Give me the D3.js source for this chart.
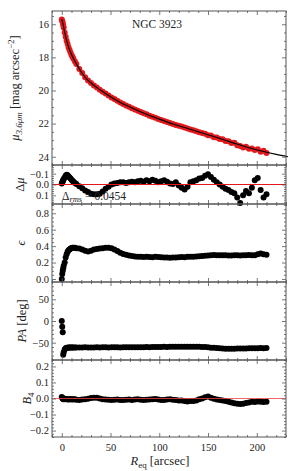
<!DOCTYPE html>
<html>
<head>
<meta charset="utf-8">
<script src="https://cdn.jsdelivr.net/npm/d3@7"></script>
<style>
body { margin: 0; background: #fff; }
text { font-family: "Liberation Serif", "DejaVu Serif", serif; fill: #222; }
</style>
</head>
<body>
<div id="chart"></div>
<script>
// Equivalent radius of each isophote [arcsec]
let radius = [
  0, 0.5, 1, 1.5, 2, 3, 4, 5, 6, 7,
  8, 9, 10, 11, 12, 13.5, 15, 18, 21, 24,
  27, 30, 33, 36, 39, 42, 45, 48, 51, 54,
  57, 60, 63, 66, 69, 72, 75, 78, 81, 84,
  87, 90, 93, 96, 99, 102, 105, 108, 111, 114,
  117, 120, 123, 126, 129, 132, 135, 138, 141, 144,
  147, 150, 153, 156, 159, 162, 165, 168, 171, 174,
  177, 180, 183, 186, 189, 192, 195, 198, 201, 204,
  207, 210]

// Surface brightness mu_3.6 [mag arcsec^-2]
let mu = [
  15.72, 15.8, 15.9, 16.05, 16.2, 16.5, 16.75, 17.0, 17.2, 17.4,
  17.55, 17.7, 17.85, 17.97, 18.08, 18.25, 18.4, 18.7, 18.95, 19.2,
  19.4, 19.55, 19.7, 19.82, 19.95, 20.07, 20.18, 20.3, 20.42, 20.52,
  20.62, 20.72, 20.82, 20.9, 20.98, 21.07, 21.15, 21.22, 21.3, 21.37,
  21.44, 21.52, 21.58, 21.65, 21.72, 21.78, 21.84, 21.9, 21.96, 22.02,
  22.08, 22.13, 22.18, 22.24, 22.3, 22.35, 22.4, 22.46, 22.52, 22.57,
  22.62, 22.7, 22.72, 22.82, 22.84, 22.93, 22.94, 23.05, 23.06, 23.17,
  23.16, 23.3, 23.36, 23.45, 23.4, 23.52, 23.5, 23.6, 23.55, 23.7,
  23.64, 23.78]

// Model profile (black line)
let fitRadius = [0, 1, 2, 3, 5, 7, 10, 13, 16, 20, 25, 30, 40, 50, 60, 70, 80, 90, 100, 115, 130, 145, 160, 175, 190, 205, 220, 232]
let fitMu = [15.7, 15.9, 16.18, 16.48, 16.98, 17.38, 17.83, 18.18, 18.5, 18.88, 19.27, 19.55, 19.99, 20.38, 20.72, 21.0, 21.27, 21.51, 21.73, 22.04, 22.31, 22.58, 22.86, 23.15, 23.43, 23.66, 23.86, 24.0]

// Residuals
let dmu = [
  -0.01, -0.02, -0.03, -0.04, -0.05, -0.065, -0.08, -0.09, -0.085, -0.075,
  -0.065, -0.055, -0.045, -0.035, -0.025, -0.015, -0.005, 0.015, 0.035, 0.055,
  0.07, 0.085, 0.09, 0.09, 0.085, 0.065, 0.04, 0.02, 0.0, -0.01,
  -0.015, -0.02, -0.02, -0.015, -0.02, -0.025, -0.02, -0.03, -0.035, -0.025,
  -0.04, -0.03, -0.045, -0.035, -0.02, -0.03, -0.04, -0.025, -0.01, -0.005,
  -0.02, 0.01, 0.03, 0.045, 0.02, -0.02, -0.03, -0.04, -0.055, -0.06,
  -0.08, -0.095, -0.07, -0.045, -0.02, 0.0, 0.02, 0.04, 0.05, 0.07,
  0.08, 0.12, 0.17, 0.1, 0.06, 0.08, 0.03, -0.04, -0.06, 0.05,
  0.12, 0.09]

// Ellipticity
let ell = [
  0.0, 0.06, 0.1, 0.13, 0.16, 0.2, 0.26, 0.3, 0.33, 0.35,
  0.36, 0.37, 0.375, 0.38, 0.38, 0.38, 0.375, 0.37, 0.36, 0.345,
  0.335, 0.345, 0.36, 0.365, 0.37, 0.375, 0.38, 0.38, 0.375, 0.36,
  0.34, 0.32, 0.305, 0.295, 0.285, 0.28, 0.275, 0.27, 0.27, 0.268,
  0.27, 0.268, 0.265, 0.27, 0.268, 0.265, 0.26, 0.262, 0.258, 0.26,
  0.262, 0.265, 0.268, 0.265, 0.27, 0.272, 0.27, 0.275, 0.278, 0.28,
  0.282, 0.285, 0.29, 0.292, 0.29, 0.288, 0.29, 0.29, 0.285, 0.285,
  0.288, 0.29, 0.285, 0.288, 0.29, 0.292, 0.29, 0.29, 0.3, 0.31,
  0.3, 0.295]

// Position angle [deg]
let pa = [
  0, -13, -26, -78, -72, -66, -63, -62, -61.5, -61,
  -61, -61, -61, -61, -61, -61, -61, -61.2, -61, -60.8,
  -61, -61.2, -61, -60.8, -61, -60.5, -60.8, -61, -60.7, -60.5,
  -60.8, -61, -60.6, -60.5, -60.8, -60.4, -60.5, -60.7, -60.3, -60.5,
  -60.2, -60.4, -60, -60.2, -59.8, -60, -59.6, -59.8, -59.5, -59.7,
  -59.4, -59.6, -59.3, -59.5, -59.4, -59.2, -59.5, -59.3, -59.6, -59.8,
  -60.2, -60.8, -61.5, -62, -62.5, -63, -63.5, -64, -64.2, -64,
  -63.8, -63.5, -63.7, -63.2, -63.5, -63, -62.8, -63, -62.6, -62.5,
  -62.8, -62.5]

// Fourth cosine harmonic B4
let b4 = [
  0.01, 0.005, 0.0, -0.005, 0.0, -0.005, -0.003, -0.005, -0.004, -0.006,
  -0.005, -0.004, -0.005, -0.006, -0.005, -0.004, -0.008, -0.01, -0.006, -0.004,
  -0.002, 0.003, 0.005, 0.004, 0.0, -0.004, -0.006, -0.008, -0.01, -0.008,
  -0.006, -0.009, -0.01, -0.008, -0.007, -0.009, -0.006, -0.005, -0.008, -0.01,
  -0.008, -0.006, -0.004, -0.003, -0.006, -0.009, -0.01, -0.007, -0.005, -0.008,
  -0.01, -0.012, -0.012, -0.015, -0.018, -0.016, -0.015, -0.012, -0.005, 0.0,
  0.008, 0.012, 0.005, -0.002, -0.006, -0.01, -0.012, -0.015, -0.02, -0.025,
  -0.03, -0.033, -0.035, -0.033, -0.028, -0.025, -0.02, -0.022, -0.018, -0.02,
  -0.022, -0.02]

let xTicks = [0, 50, 100, 150, 200]

// Set bounds
let svgWidth = 293, svgHeight = 471
let left = 52, right = 286
let frameColor = '#555'

let x = d3.scaleLinear().domain([-10, 230]).range([left, right])
let xMinor = d3.range(-10, 231, 10).filter(v => v % 50 !== 0)

let svg = d3.select('#chart')
    .append('svg')
    .attr('width', svgWidth)
    .attr('height', svgHeight)

// panels from top to bottom
let panels = [
    { top: 11, bottom: 165, domain: [15.2, 24.5], flip: true, major: [16, 18, 20, 22, 24], minor: 0.5, fmt: d3.format('d'),
      values: mu, color: '#e3191c', zero: false, label: 'mu', labelX: 19 },
    { top: 165, bottom: 204, domain: [-0.18, 0.18], flip: true, major: [-0.1, 0, 0.1], minor: 0.02, fmt: d3.format('.1f'),
      values: dmu, color: '#000', zero: true, label: 'dmu', labelX: 24 },
    { top: 204, bottom: 282, domain: [-0.037, 0.913], flip: false, major: [0, 0.2, 0.4, 0.6, 0.8], minor: 0.05, fmt: d3.format('.1f'),
      values: ell, color: '#000', zero: false, label: 'eps', labelX: 25 },
    { top: 282, bottom: 360, domain: [-90, 90], flip: false, major: [-50, 0, 50], minor: 10, fmt: d3.format('d'),
      values: pa, color: '#000', zero: false, label: 'pa', labelX: 26 },
    { top: 360, bottom: 437, domain: [-0.24, 0.24], flip: false, major: [-0.2, -0.1, 0, 0.1, 0.2], minor: 0.02, fmt: d3.format('.1f'),
      values: b4, color: '#000', zero: true, label: 'b4', labelX: 31 }
]

let styleAxis = (sel) => {
    sel.select('.domain').remove()
    sel.selectAll('line').attr('stroke', frameColor).attr('stroke-width', 0.8)
    sel.selectAll('text').attr('font-size', 10.5).attr('fill', '#222')
}

panels.forEach((p, i) => {
    let y = d3.scaleLinear()
        .domain(p.domain)
        .range(p.flip ? [p.top, p.bottom] : [p.bottom, p.top])
    let lo = Math.min(...p.domain), hi = Math.max(...p.domain)
    let yMinor = d3.range(Math.ceil(lo / p.minor) * p.minor, hi, p.minor)
        .filter(v => !p.major.some(m => Math.abs(m - v) < 1e-9))

    let g = svg.append('g')

    // data points
    g.append('g')
        .selectAll('circle')
        .data(radius)
        .join('circle')
        .attr('cx', d => x(d))
        .attr('cy', (d, k) => y(p.values[k]))
        .attr('r', 3)
        .attr('fill', p.color)

    // model line on the profile
    if (i === 0) {
        let line = d3.line()
            .x(d => x(d))
            .y((d, k) => y(fitMu[k]))
            .curve(d3.curveMonotoneX)
        g.append('path')
            .datum(fitRadius)
            .attr('fill', 'none')
            .attr('stroke', '#000')
            .attr('stroke-width', 1.1)
            .attr('d', line)
    }

    // red zero line
    if (p.zero) {
        g.append('line')
            .attr('x1', left).attr('x2', right)
            .attr('y1', y(0)).attr('y2', y(0))
            .attr('stroke', i === 1 ? '#e8141c' : '#f04040')
            .attr('stroke-width', 1)
            .attr('opacity', i === 1 ? 1 : 0.8)
    }

    // x ticks, bottom and top
    let last = i === panels.length - 1
    g.append('g')
        .attr('transform', 'translate(0,' + p.bottom + ')')
        .call(d3.axisBottom(x).tickValues(xTicks).tickSize(-4).tickPadding(7)
            .tickFormat(last ? d3.format('d') : ''))
        .call(styleAxis)
    g.append('g')
        .attr('transform', 'translate(0,' + p.bottom + ')')
        .call(d3.axisBottom(x).tickValues(xMinor).tickSize(-2).tickFormat(''))
        .call(styleAxis)
    g.append('g')
        .attr('transform', 'translate(0,' + p.top + ')')
        .call(d3.axisTop(x).tickValues(xTicks).tickSize(-4).tickFormat(''))
        .call(styleAxis)
    g.append('g')
        .attr('transform', 'translate(0,' + p.top + ')')
        .call(d3.axisTop(x).tickValues(xMinor).tickSize(-2).tickFormat(''))
        .call(styleAxis)

    // y ticks, left and right
    g.append('g')
        .attr('transform', 'translate(' + left + ',0)')
        .call(d3.axisLeft(y).tickValues(p.major).tickSize(-4).tickPadding(3).tickFormat(p.fmt))
        .call(styleAxis)
    g.append('g')
        .attr('transform', 'translate(' + left + ',0)')
        .call(d3.axisLeft(y).tickValues(yMinor).tickSize(-2).tickFormat(''))
        .call(styleAxis)
    g.append('g')
        .attr('transform', 'translate(' + right + ',0)')
        .call(d3.axisRight(y).tickValues(p.major).tickSize(-4).tickFormat(''))
        .call(styleAxis)
    g.append('g')
        .attr('transform', 'translate(' + right + ',0)')
        .call(d3.axisRight(y).tickValues(yMinor).tickSize(-2).tickFormat(''))
        .call(styleAxis)

    // frame
    g.append('rect')
        .attr('x', left).attr('y', p.top)
        .attr('width', right - left).attr('height', p.bottom - p.top)
        .attr('fill', 'none')
        .attr('stroke', frameColor)
        .attr('stroke-width', 1)

    // y label
    let cy = (p.top + p.bottom) / 2
    let lab = g.append('text')
        .attr('transform', 'translate(' + p.labelX + ',' + cy + ') rotate(-90)')
        .attr('text-anchor', 'middle')
        .attr('font-size', 12.5)
    if (p.label === 'mu') {
        lab.append('tspan').attr('font-style', 'italic').text('μ')
        lab.append('tspan').attr('font-style', 'italic').attr('font-size', 9).attr('dy', 3).text('3.6μm')
        lab.append('tspan').attr('dy', -3).text(' [mag arcsec')
        lab.append('tspan').attr('font-size', 9).attr('dy', -5).text('−2')
        lab.append('tspan').attr('dy', 5).text(']')
    } else if (p.label === 'dmu') {
        lab.append('tspan').text('Δ')
        lab.append('tspan').attr('font-style', 'italic').text('μ')
    } else if (p.label === 'eps') {
        lab.append('tspan').attr('font-style', 'italic').text('ϵ')
    } else if (p.label === 'pa') {
        lab.append('tspan').attr('font-style', 'italic').text('PA')
        lab.append('tspan').text(' [deg]')
    } else {
        lab.append('tspan').attr('font-style', 'italic').text('B')
        lab.append('tspan').attr('font-size', 9).attr('dy', 3).text('4')
    }
})

// galaxy name
svg.append('text')
    .attr('x', 157).attr('y', 28)
    .attr('text-anchor', 'middle')
    .attr('font-size', 11.5)
    .text('NGC 3923')

// rms of residuals
let rms = svg.append('text')
    .attr('x', 62).attr('y', 200)
    .attr('font-size', 11.5)
rms.append('tspan').text('Δ')
rms.append('tspan').attr('font-style', 'italic').attr('font-size', 8.5).attr('dy', 2).text('rms')
rms.append('tspan').attr('dy', -2).text(' = 0.0454')

// x label
let xl = svg.append('text')
    .attr('x', 160).attr('y', 465)
    .attr('text-anchor', 'middle')
    .attr('font-size', 12.5)
xl.append('tspan').attr('font-style', 'italic').text('R')
xl.append('tspan').attr('font-size', 9).attr('dy', 3).text('eq')
xl.append('tspan').attr('dy', -3).text(' [arcsec]')
</script>
</body>
</html>
